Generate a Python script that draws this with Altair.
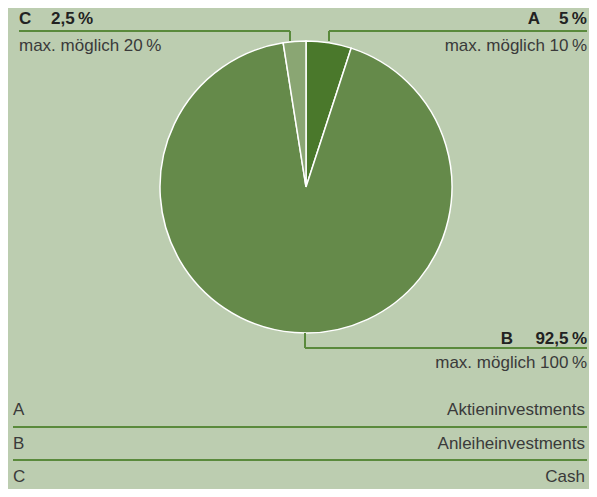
import altair as alt
import pandas as pd

# ---- data ----
categories = ["A", "B", "C"]
shares = [5.0, 92.5, 2.5]
max_shares = [10, 100, 20]
names = ["Aktieninvestments", "Anleiheinvestments", "Cash"]
slice_colors = ["#4a782b", "#658a4a", "#8aa673"]

BG = "#bccdb0"
LINE = "#5a8a3c"
TXT = "#3a3a3a"
FONT = "Liberation Sans"
FS = 17


def pct(v):
    s = f"{v:g}".replace(".", ",")
    return s + "\u2009%"


pie_df = pd.DataFrame({"cat": categories, "share": shares, "idx": range(len(categories))})

pie = alt.Chart(pie_df).mark_arc(outerRadius=146, stroke="white", strokeWidth=1.5).encode(
    theta=alt.Theta("share:Q", stack=True),
    color=alt.Color("cat:N", scale=alt.Scale(domain=categories, range=slice_colors), legend=None),
    order=alt.Order("idx:Q"),
    x=alt.value(298),
    y=alt.value(179),
)

# ---- callout layout (pixel positions) ----
R = 579  # right edge for right-aligned texts
callouts = {
    "A": dict(lx=532, la="right", vx=R, va="right", by=16, my=43, mx=R, ma="right"),
    "B": dict(lx=505, la="right", vx=R, va="right", by=336, my=360, mx=R, ma="right"),
    "C": dict(lx=11, la="left", vx=43, va="left", by=16, my=43, mx=11, ma="left"),
}
segments = [
    # C leader
    dict(x=11, x2=282, y=23, y2=23), dict(x=282, x2=282, y=23, y2=33),
    # A leader
    dict(x=321, x2=R, y=23, y2=23), dict(x=321, x2=321, y=23, y2=33),
    # B leader
    dict(x=297, x2=297, y=325, y2=340), dict(x=297, x2=R, y=340, y2=340),
    # table separators
    dict(x=5, x2=R, y=419, y2=419), dict(x=5, x2=R, y=452, y2=452),
]
seg_df = pd.DataFrame(segments)

rules = alt.Chart(seg_df).mark_rule(color=LINE, strokeWidth=2).encode(
    x=alt.X("x:Q", scale=None), x2="x2:Q",
    y=alt.Y("y:Q", scale=None), y2="y2:Q",
)

layers = [pie, rules]
for c, v, m in zip(categories, shares, max_shares):
    p = callouts[c]
    letter = alt.Chart(pd.DataFrame({"t": [c]})).mark_text(
        align=p["la"], baseline="alphabetic", font=FONT, fontSize=FS, fontWeight="bold", color="#222222"
    ).encode(x=alt.value(p["lx"]), y=alt.value(p["by"]), text="t:N")
    val = alt.Chart(pd.DataFrame({"t": [pct(v)]})).mark_text(
        align=p["va"], baseline="alphabetic", font=FONT, fontSize=FS, fontWeight="bold", color="#222222"
    ).encode(x=alt.value(p["vx"]), y=alt.value(p["by"]), text="t:N")
    mx = alt.Chart(pd.DataFrame({"t": ["max. möglich " + pct(m)]})).mark_text(
        align=p["ma"], baseline="alphabetic", font=FONT, fontSize=FS, color=TXT
    ).encode(x=alt.value(p["mx"]), y=alt.value(p["my"]), text="t:N")
    layers += [letter, val, mx]

# ---- legend table ----
row_base = [407, 441, 474]
tbl_df = pd.DataFrame({"cat": categories, "name": names, "yb": row_base})
tbl_left = alt.Chart(tbl_df).mark_text(
    align="left", baseline="alphabetic", font=FONT, fontSize=FS, color=TXT
).encode(x=alt.value(5), y=alt.Y("yb:Q", scale=None), text="cat:N")
tbl_right = alt.Chart(tbl_df).mark_text(
    align="right", baseline="alphabetic", font=FONT, fontSize=FS, color=TXT
).encode(x=alt.value(577), y=alt.Y("yb:Q", scale=None), text="name:N")
layers += [tbl_left, tbl_right]

chart = alt.layer(*layers).properties(
    width=581, height=481, padding=0, autosize=alt.AutoSizeParams(type="none"), background=BG
).configure_view(stroke=None)

chart.save("out.html", embed_options={"renderer": "svg", "actions": False})
